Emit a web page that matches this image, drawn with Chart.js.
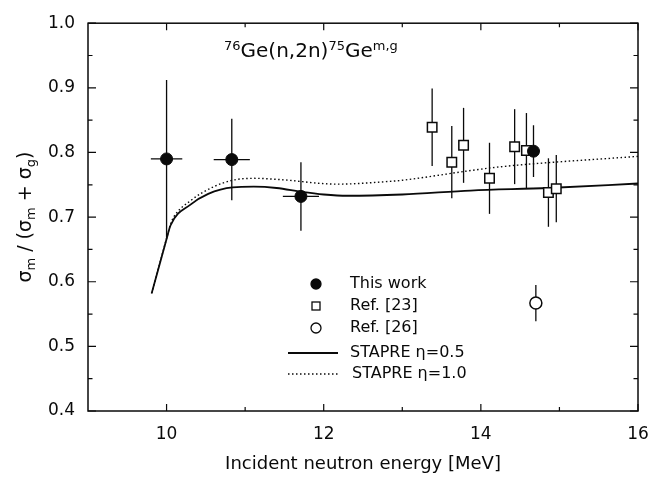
<!DOCTYPE html>
<html>
<head>
<meta charset="utf-8">
<script src="https://cdn.jsdelivr.net/npm/chart.js@4.4.0/dist/chart.umd.min.js"></script>
<style>
  html, body { margin: 0; padding: 0; background: #fff; }
</style>
</head>
<body>
<canvas id="chart" width="663" height="478"></canvas>
<script>
// This work
const thisWorkE = [10.0, 10.83, 11.71, 14.67]
const thisWorkR = [0.790, 0.789, 0.732, 0.802]
const thisWorkErrR = [0.122, 0.063, 0.053, 0.040]
const thisWorkErrE = [0.20, 0.23, 0.23, 0.08]

// Ref. [23]
const ref23E = [13.38, 13.63, 13.78, 14.11, 14.43, 14.58, 14.86, 14.96]
const ref23R = [0.839, 0.785, 0.811, 0.760, 0.809, 0.803, 0.738, 0.744]
const ref23ErrR = [0.060, 0.056, 0.058, 0.055, 0.058, 0.058, 0.053, 0.052]

// Ref. [26]
const ref26E = [14.70]
const ref26R = [0.567]
const ref26ErrR = [0.028]

// STAPRE calculations
const stapre05E = [9.81, 10.0, 10.05, 10.3, 10.53, 10.84, 11.11, 11.4, 11.72, 12.0, 12.3, 13.0, 13.87, 14.86, 16.0]
const stapre05R = [0.582, 0.666, 0.687, 0.719, 0.736, 0.746, 0.747, 0.745, 0.739, 0.735, 0.733, 0.735, 0.741, 0.745, 0.752]
const stapre10E = [9.81, 10.0, 10.05, 10.09, 10.3, 10.6, 10.84, 11.11, 11.45, 12.17, 12.81, 13.0, 13.87, 14.26, 16.0]
const stapre10R = [0.582, 0.667, 0.689, 0.700, 0.725, 0.747, 0.757, 0.760, 0.758, 0.751, 0.755, 0.757, 0.772, 0.778, 0.794]

const xTicks = [10, 12, 14, 16]
const xMinorTicks = [11, 13, 15]
const yTicks = [0.4, 0.5, 0.6, 0.7, 0.8, 0.9, 1.0]
const yMinorTicks = [0.45, 0.55, 0.65, 0.75, 0.85, 0.95]

const ink = '#0a0a0a'
const font = 'DejaVu Sans'

const pts = (xs, ys) => xs.map((x, i) => ({ x, y: ys[i] }))

// draws a run of text pieces, some raised or lowered (super/subscripts)
function richText(ctx, parts, x, y, align) {
  let w = 0
  parts.forEach(p => { ctx.font = p[1] + 'px "' + font + '"'; w += ctx.measureText(p[0]).width })
  let cx = align === 'center' ? x - w / 2 : x
  parts.forEach(p => {
    ctx.font = p[1] + 'px "' + font + '"'
    ctx.fillText(p[0], cx, y + p[2])
    cx += ctx.measureText(p[0]).width
  })
}

const errorBars = {
  id: 'errorBars',
  beforeDatasetsDraw(chart) {
    const { ctx, scales: { x, y } } = chart
    ctx.save()
    ctx.strokeStyle = ink
    ctx.lineWidth = 1.3
    chart.data.datasets.forEach(ds => {
      if (!ds.yErr) return
      ds.data.forEach((p, i) => {
        const px = x.getPixelForValue(p.x)
        const py = y.getPixelForValue(p.y)
        ctx.beginPath()
        ctx.moveTo(px, y.getPixelForValue(p.y - ds.yErr[i]))
        ctx.lineTo(px, y.getPixelForValue(p.y + ds.yErr[i]))
        if (ds.xErr) {
          ctx.moveTo(x.getPixelForValue(p.x - ds.xErr[i]), py)
          ctx.lineTo(x.getPixelForValue(p.x + ds.xErr[i]), py)
        }
        ctx.stroke()
      })
    })
    ctx.restore()
  }
}

const frame = {
  id: 'frame',
  afterDraw(chart) {
    const { ctx, chartArea: a, scales: { x, y } } = chart
    ctx.save()
    ctx.strokeStyle = ink
    ctx.lineWidth = 1.5
    ctx.strokeRect(a.left, a.top, a.right - a.left, a.bottom - a.top)

    ctx.lineWidth = 1.2
    ctx.beginPath()
    const xt = (vals, len) => vals.forEach(v => {
      const px = x.getPixelForValue(v)
      ctx.moveTo(px, a.bottom); ctx.lineTo(px, a.bottom - len)
      ctx.moveTo(px, a.top); ctx.lineTo(px, a.top + len)
    })
    const yt = (vals, len) => vals.forEach(v => {
      const py = y.getPixelForValue(v)
      ctx.moveTo(a.left, py); ctx.lineTo(a.left + len, py)
      ctx.moveTo(a.right, py); ctx.lineTo(a.right - len, py)
    })
    xt(xTicks, 7); xt(xMinorTicks, 4)
    yt(yTicks, 8); yt(yMinorTicks, 4.5)
    ctx.stroke()

    // y axis title with subscripts
    ctx.fillStyle = ink
    ctx.textBaseline = 'alphabetic'
    ctx.translate(31, (a.top + a.bottom) / 2)
    ctx.rotate(-Math.PI / 2)
    richText(ctx, [['σ', 19, 0], ['m', 13, 4], [' / (σ', 19, 0], ['m', 13, 4], [' + σ', 19, 0], ['g', 13, 4], [')', 19, 0]], 0, 0, 'center')
    ctx.restore()

    // reaction label
    ctx.save()
    ctx.fillStyle = ink
    ctx.textBaseline = 'alphabetic'
    richText(ctx, [['76', 13, -7], ['Ge(n,2n)', 20, 0], ['75', 13, -7], ['Ge', 20, 0], ['m,g', 13, -7]], 224, 57, 'left')
    ctx.restore()
  }
}

const legendBox = {
  id: 'legendBox',
  afterDatasetsDraw(chart) {
    const { ctx } = chart
    const rows = [284, 306, 328, 353, 374]
    const markX = 316, textX = 350
    ctx.save()
    ctx.strokeStyle = ink
    ctx.fillStyle = ink
    chart.data.datasets.forEach((ds, i) => {
      const ry = rows[i]
      ctx.lineWidth = 1.3
      if (ds.showLine) {
        ctx.setLineDash(ds.borderDash || [])
        ctx.lineWidth = ds.borderWidth
        ctx.beginPath(); ctx.moveTo(288, ry); ctx.lineTo(338, ry); ctx.stroke()
        ctx.setLineDash([])
      } else if (ds.pointStyle === 'rect') {
        ctx.fillStyle = '#fff'
        ctx.fillRect(markX - 4, ry - 4, 8, 8)
        ctx.strokeRect(markX - 4, ry - 4, 8, 8)
      } else {
        ctx.fillStyle = ds.backgroundColor
        ctx.beginPath(); ctx.arc(markX, ry, 5, 0, Math.PI * 2); ctx.fill(); ctx.stroke()
      }
      ctx.fillStyle = ink
      ctx.font = '16px "' + font + '"'
      ctx.textBaseline = 'middle'
      ctx.fillText(ds.label, textX + (i === 4 ? 2 : 0), ry)
    })
    ctx.restore()
  }
}

new Chart(document.getElementById('chart'), {
  type: 'scatter',
  data: {
    datasets: [
      {
        label: 'This work',
        data: pts(thisWorkE, thisWorkR),
        yErr: thisWorkErrR,
        xErr: thisWorkErrE,
        pointStyle: 'circle',
        pointRadius: 6,
        backgroundColor: ink,
        borderColor: ink,
        borderWidth: 1
      },
      {
        label: 'Ref. [23]',
        data: pts(ref23E, ref23R),
        yErr: ref23ErrR,
        pointStyle: 'rect',
        pointRadius: 6.7,
        backgroundColor: '#fff',
        borderColor: ink,
        borderWidth: 1.5
      },
      {
        label: 'Ref. [26]',
        data: pts(ref26E, ref26R),
        yErr: ref26ErrR,
        pointStyle: 'circle',
        pointRadius: 6,
        backgroundColor: '#fff',
        borderColor: ink,
        borderWidth: 1.5
      },
      {
        label: 'STAPRE η=0.5',
        data: pts(stapre05E, stapre05R),
        showLine: true,
        pointRadius: 0,
        borderColor: ink,
        borderWidth: 1.8,
        cubicInterpolationMode: 'monotone'
      },
      {
        label: 'STAPRE η=1.0',
        data: pts(stapre10E, stapre10R),
        showLine: true,
        pointRadius: 0,
        borderColor: ink,
        borderWidth: 1.4,
        borderDash: [1.5, 2.5],
        cubicInterpolationMode: 'monotone'
      }
    ]
  },
  options: {
    responsive: false,
    devicePixelRatio: 1,
    animation: false,
    events: [],
    layout: { padding: { left: 0, right: 25, top: 15, bottom: 0 } },
    plugins: {
      legend: { display: false },
      tooltip: { enabled: false }
    },
    scales: {
      x: {
        type: 'linear',
        min: 9,
        max: 16,
        afterBuildTicks: scale => { scale.ticks = xTicks.map(value => ({ value })) },
        afterFit: scale => { scale.height = 67 },
        grid: { display: false, drawTicks: false },
        border: { display: false },
        ticks: {
          color: ink,
          padding: 13,
          font: { family: font, size: 17 },
          callback: v => String(v)
        },
        title: {
          display: true,
          text: 'Incident neutron energy [MeV]',
          color: ink,
          font: { family: font, size: 18 },
          padding: { top: 0, bottom: 3 }
        }
      },
      y: {
        type: 'linear',
        min: 0.4,
        max: 1.0,
        afterBuildTicks: scale => { scale.ticks = yTicks.map(value => ({ value })) },
        afterFit: scale => { scale.width = 88 },
        grid: { display: false, drawTicks: false },
        border: { display: false },
        ticks: {
          color: ink,
          padding: 13,
          font: { family: font, size: 17 },
          callback: v => v.toFixed(1)
        }
      }
    }
  },
  plugins: [errorBars, frame, legendBox]
})
</script>
</body>
</html>
